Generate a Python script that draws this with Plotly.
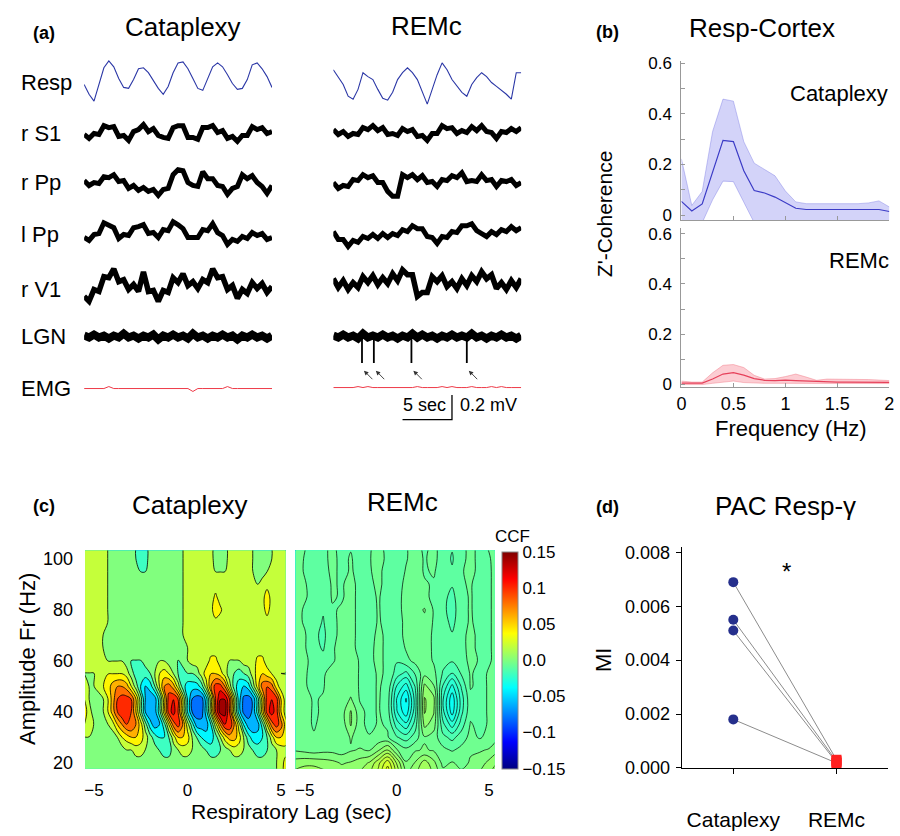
import plotly.graph_objects as go
import numpy as np

W, H = 900, 836
FONT = "Liberation Sans, Arial, sans-serif"


def fx(p):
    return p / W


def fy(p):
    return 1 - p / H


# ---------------- Panel (a): example traces (values in microvolts, 0.5 s sampling) ----------------
t_sec = [round(0.5 * i, 2) for i in range(39)]
channel_names = ["Resp", "r S1", "r Pp", "l Pp", "r V1", "LGN", "EMG"]

cat_resp = [-24, -104, -160, -24, 112, 168, 120, 24, -48, -56, 16, 104, 112, 72, 8, -56, -104, -40, 72, 152,
            160, 104, 24, -56, -72, 24, 120, 152, 120, 56, -16, -64, -56, 16, 136, 152, 104, 40, -48]
cat_s1 = [-8, -40, 0, -8, 64, 48, 56, -24, -16, -56, 16, 32, 72, 16, 40, -16, -32, -40, 48, 64,
          64, -32, -32, -48, 48, 48, 64, 8, 24, -40, -24, -64, -16, -16, 56, 32, 48, 0, 16]
cat_rpp = [32, -8, 16, 8, 64, 56, 80, 24, 32, -32, -8, -48, -24, -56, -40, -88, -40, -32, 80, 120,
           112, 16, -8, -16, 104, 48, 48, -8, -16, -80, -32, -16, 80, 48, 72, 16, -16, -72, -8]
cat_lpp = [-32, -56, -8, 0, 88, 64, 48, -40, -8, -16, 48, 56, 72, 0, 8, -32, 32, 24, 96, 72,
           40, -32, -32, -32, 32, 24, 80, 8, -16, -88, -48, -64, -24, -40, 8, -16, 0, -48, -32]
cat_v1 = [-88, -128, -32, -48, 72, 64, 136, 32, 48, -32, 8, -48, 112, -48, -40, -128, -40, -56, 64, 24,
          96, 0, 32, -24, 48, 24, 136, 64, 72, -32, 0, -104, -32, -64, 24, -24, 16, -56, -8]
cat_lgn = [8, -8, 16, -8, 8, -16, 8, -8, 24, -8, 8, -16, 8, -8, 16, -24, 8, -8, 16, -8,
           8, -16, 24, -8, 8, -16, 8, -8, 16, -8, 8, -24, 8, -8, 16, -8, 8, -16, 8]
cat_emg = [0, 0, 0, 0, 0, 16, 0, 0, 0, 0, 0, 0, 0, 0, 0, 0, 0, 0, 0, 0,
           0, 0, -24, 0, 0, 0, 0, 0, 0, 16, 0, 0, 0, 0, 0, 0, 0, 0, 0]

rem_resp = [120, 64, 0, -96, -120, -40, 96, 64, 40, -40, -112, -128, -64, 40, 96, 136, 96, 40, -64, -160,
            -40, 80, 176, 120, 40, -16, -64, -96, 0, 56, 96, 64, 16, -16, -48, -80, -120, 96, 96]
rem_s1 = [24, -16, 8, -32, -8, -16, 40, 24, 56, 16, 40, -16, -8, -24, 32, 8, 24, -32, -24, -64,
          -8, -8, 56, 32, 40, -8, 16, 0, 48, 16, 56, 8, 0, -48, 8, 0, 32, 8, 40]
rem_rpp = [16, -32, -8, -16, 40, 32, 80, 56, 72, 16, 16, -56, -96, -96, 80, 56, 80, 40, 72, 16,
           24, -16, 40, 32, 72, 56, 96, 24, 32, 24, 80, 32, 40, -16, 32, 24, 40, -8, 16]
rem_lpp = [32, -32, -32, -88, -40, -56, -8, -24, 8, -24, 16, -16, 16, 0, 48, 32, 80, 56, 56, -8,
           -16, -64, -8, -16, 32, 24, 80, 80, 96, 40, 16, -8, 32, 8, 48, 32, 72, 40, 64]
rem_v1 = [32, -40, 16, -56, 0, -40, 48, 0, 56, -16, 40, -8, 72, 16, 104, 64, 64, -112, -80, -80,
          48, 8, 56, -32, 8, -48, 32, -24, 56, 8, 88, 32, 64, -48, 0, -56, 16, -40, 32]
rem_lgn = [8, -8, 16, -8, 8, -16, 24, -8, 8, -8, 16, -8, 8, -16, 8, -8, 24, -8, 16, -8,
           8, -16, 8, -8, 16, -8, 8, -8, 24, -8, 8, -16, 8, -8, 16, -8, 8, -16, 8]
rem_emg = [0, 0, 0, 0, 0, 8, 0, 8, 0, 0, 0, 0, 0, 0, 0, 0, 0, 8, 0, 0,
           0, 0, 8, 0, 8, 0, 0, 0, 8, 0, 0, 0, 8, 0, 8, 0, 0, 0, 0]

lgn_spike_times = [2.9, 4.1, 7.9, 13.5]
lgn_spike_depth_uV = [-216, -216, -216, -216]
scale_sec = 5
scale_uV = 200

# ---------------- Panel (b): Resp-cortex coherence ----------------
freq_hz = [0.0, 0.1, 0.2, 0.3, 0.4, 0.5, 0.6, 0.7, 0.8, 0.9, 1.0, 1.1, 1.2, 1.3, 1.4, 1.5, 1.6, 1.7, 1.8, 1.9, 2.0]
cat_mean = [0.054, 0.016, 0.044, 0.17, 0.295, 0.29, 0.175, 0.097, 0.087, 0.071, 0.05, 0.027, 0.022, 0.022,
            0.022, 0.022, 0.022, 0.022, 0.022, 0.022, 0.014]
cat_upper = [0.222, 0.038, 0.093, 0.33, 0.458, 0.45, 0.29, 0.205, 0.18, 0.155, 0.095, 0.052, 0.045, 0.045,
             0.045, 0.045, 0.045, 0.045, 0.048, 0.056, 0.032]
cat_lower = [-0.03, -0.03, -0.03, 0.06, 0.134, 0.132, 0.05, -0.03, -0.03, -0.03, -0.03, -0.03, -0.03, -0.03,
             -0.03, -0.03, -0.03, -0.03, -0.03, -0.03, -0.03]
rem_mean = [0.004, 0.003, 0.004, 0.02, 0.04, 0.046, 0.036, 0.022, 0.015, 0.014, 0.016, 0.014, 0.012, 0.009,
            0.009, 0.008, 0.008, 0.008, 0.008, 0.008, 0.007]
rem_upper = [0.012, 0.008, 0.008, 0.045, 0.075, 0.078, 0.066, 0.035, 0.02, 0.022, 0.03, 0.04, 0.028, 0.015,
             0.02, 0.02, 0.018, 0.019, 0.018, 0.016, 0.014]
rem_lower = [-0.002, -0.002, -0.002, 0.003, 0.008, 0.012, 0.006, 0.003, 0.003, 0.003, 0.003, 0.003, 0.003, 0.002,
             0.002, 0.002, 0.002, 0.002, 0.002, 0.002, 0.002]

# ---------------- Panel (c): CCF maps ----------------
ccf_freq_hz = [15, 20, 25, 30, 35, 40, 45, 50, 55, 60, 65, 70, 75, 80, 85, 90, 95, 100, 105]
cat_lag_sec = [round(-5.5 + 0.25 * i, 2) for i in range(45)]
rem_lag_sec = [round(-5.5 + 0.5 * i, 2) for i in range(23)]

# Cataplexy CCF, in units of 0.01
cat_ccf_centi = [
    [1, 1, 1, 1, 1, 0, 0, 0, 0, 0, 0, 0, 0, 0, 0, 0, 0, 0, 0, 0, 0, 0, 0, 0, 0, 0, 0, 0, 0, 0, 0, 0, 0, 0, 0, 0, 0, 0, 0, 0, 0, 1, 2, 4, 5],
    [1, 1, 1, 1, 1, 0, 0, 0, 0, 0, 0, 0, 0, 0, 0, 0, 0, 0, 0, 0, 0, 0, 0, 0, 0, 0, 0, 0, 0, 0, 0, 0, 0, 0, 0, 0, 0, 0, 0, 0, 0, 1, 2, 4, 4],
    [0, 0, 0, 0, 0, 0, 0, 0, 0, 1, 1, 2, 2, 1, 1, 0, -1, -2, -2, 0, 1, 2, 2, 1, 0, 0, -1, -2, -2, -1, 0, 1, 2, 2, 1, 0, -1, -2, -2, -1, 0, 1, 2, 2, 2],
    [1, 1, 1, 0, 0, 0, 0, 1, 3, 4, 5, 5, 4, 2, 0, -2, -3, -3, -1, 2, 5, 5, 4, 1, -1, -3, -4, -4, -2, 1, 4, 6, 6, 4, 1, -2, -4, -4, -3, -1, 2, 5, 5, 5, 2],
    [3, 2, 1, 0, 0, 1, 2, 5, 7, 9, 9, 7, 4, 0, -4, -6, -5, -2, 3, 8, 10, 7, 2, -2, -6, -6, -6, -3, 2, 7, 11, 11, 7, 2, -3, -6, -6.5, -6, -2, 3, 8, 10, 8, 4, 2],
    [4, 2, 0, 0, 1, 3, 6, 9, 11, 11, 9, 5, 0, -5, -6.5, -6, -2, 4, 10, 12, 9, 3, -3, -7, -8, -8, -4, 2, 9, 14, 14, 9, 2, -4, -7.5, -8, -6.5, -2, 4, 10, 12, 10, 5, 2, 1],
    [3, 1, 0, 0, 1, 3, 6, 9, 10, 10, 9, 5, 0, -5, -6.5, -6, -2, 4, 10, 11, 9, 3, -3, -7, -8, -8, -4, 2, 9, 13, 13, 9, 2, -4, -7.5, -8, -6.5, -2, 4, 10, 11, 10, 5, 2, 1],
    [2, 1, 1, 2, 3, 4, 6, 7, 7, 6, 3, 0, -3, -5, -4, -1, 3, 7, 8, 6, 2, -2, -4, -4, -4, -2, 2, 7, 10, 10, 7, 2, -2, -4, -5, -4, 0, 4, 8, 9, 8, 4, 2, 2, 2],
    [1, 1, 1, 2, 3, 3, 3, 3, 3, 2, 0, -2, -2, -2, -1, 1, 3, 4, 3, 1, -1, -2, -1, -1, 0, 2, 4, 5, 5, 4, 2, 0, -1, -2, -1, 0, 2, 4, 5, 4, 3, 2, 1, 1, 1],
    [2, 2, 2, 2, 2, 1, 1, 1, 1, 0, -1, -1, -1, 0, 0, 1, 1, 1, 0, 0, -1, 0, 1, 2, 2, 2, 2, 3.6, 3.6, 2, 2, 1, 1, 1, 2, 2, 2, 3.6, 3.6, 2, 2, 2, 2, 2, 1],
    [2, 2, 2, 2, 1, 0, 0, 0, 0, 0, 0, 0, 0, 0, 0, 0, 0, 0, 0, 0, 0, 0, 1, 2, 2, 2, 2, 2, 2, 2, 2, 2, 2, 2, 2, 2, 2, 2, 2, 2, 2, 2, 2, 2, 1],
    [2, 2, 2, 2, 1, 0, 0, 0, 0, 0, 0, 0, 0, 0, 0, 0, 0, 0, 0, 0, 0, 1, 2, 2, 2, 2, 2, 2, 2, 2, 2, 2, 2, 2, 2, 2, 2, 2, 2, 2, 2, 2, 2, 2, 2],
    [2, 2, 2, 2, 2, 1, 0, 0, 0, 0, 0, 0, 0, 0, 0, 0, 0, 0, 0, 0, 0, 1, 2, 2, 2, 2, 2, 2, 2, 2, 2, 2, 2, 2, 2, 2, 2, 2, 2, 2, 2, 2, 2, 2, 2],
    [2, 2, 2, 2, 2, 1, 0, 0, 0, 0, 0, 0, 0, 0, 0, 0, 0, 0, 0, 0, 0, 1, 2, 2, 2, 2, 2, 2, 5, 3.5, 2, 2, 2, 2, 2, 2, 2, 2, 2, 4, 2, 2, 2, 2, 2],
    [2, 2, 2, 2, 2, 1, 0, 0, 0, 0, 0, 0, 0, 0, 0, 0, 0, 0, 0, 0, 0, 1, 2, 2, 2, 2, 2, 2, 3.5, 2, 2, 2, 2, 2, 2, 2, 2, 2, 2, 4.5, 2, 2, 2, 2, 2],
    [2, 2, 2, 2, 2, 1, 0, 0, 0, 0, 0, 0, 0, 0, 0, 0, 0, 0, 0, 0, 0, 1, 2, 2, 2, 2, 2, 2, 2, 2, 2, 2, 2, 2, 2, 2, 2, 1, 2, 2, 2, 2, 2, 2, 2],
    [2, 2, 2, 2, 2, 1, 0, 0, 0, 0, 0, 0, -1, -1, 0, 0, 0, 0, 0, 0, 0, 1, 2, 2, 2, 2, 2, 2, 1, 1, 1, 2, 2, 2, 2, 2, 1, 0, 0, 1, 2, 2, 2, 2, 2],
    [2, 2, 2, 2, 2, 1, 0, 0, 0, 0, 0, -1, -2, -2, 0, 0, 0, 0, 0, 0, 0, 1, 2, 2, 2, 2, 2, 2, 0, 0, 0, 2, 2, 2, 2, 2, 1, 0, 0, 0, 1, 2, 2, 2, 2],
    [2, 2, 2, 2, 2, 1, 0, 0, 0, 0, 0, -1, -2, -2, 0, 0, 0, 0, 0, 0, 0, 1, 2, 2, 2, 2, 2, 2, 0, 0, 0, 2, 2, 2, 2, 2, 1, 0, 0, 0, 1, 2, 2, 2, 2],
]

# REMc CCF, in units of 0.001
rem_ccf_milli = [
    [10, 12, 12, 10, 9, 6, 7, 9, 12, 20, 32, 16, 2, 7, 13, 7, 0, 2, -1, 2, 4, 8, 12],
    [5, 6, 6, 5, 4, 2, 3, 5, 8, 16, 26, 12, -2, 3, 10, 4, -4, -2, -4, -2, 0, 4, 8],
    [-3, -4, -5, -4, -4, -5, -3, -2, -3, 2, 8, -2, -6, -3, -2, -3, -6, -8, -6, -3, -3, -2, 2],
    [-4, -6, -7, -6, -5, -6, -2, -5, -7, -6, -7, -12, -15, -10, -3, -5, -11, -14, -10, -6, -8, -6, -3],
    [-4, -6, -8, -6, -4, -6, 3, -6, -9, -7, -8, -20, -26, -15, 4, 0, -16, -25, -15, -7, -9, -7, -4],
    [-4, -6, -8, -7, -3, -5, 3, -6, -9, -7, -10, -27, -36, -19, 8, 3, -21, -35, -19, -9, -9, -7, -5],
    [-4, -6, -8, -7, -3, -6, -2, -8, -9, -7, -10, -28, -38, -20, 8, 4, -22, -36, -20, -9, -9, -7, -5],
    [-5, -7, -9, -8, -4, -7, -5, -8, -9, -7, -9, -23, -30, -17, 4, -2, -18, -29, -17, -7, -9, -7, -5],
    [-5, -7, -9, -8, -6, -7, -5, -8, -9, -7, -8, -15, -19, -12, -4, -6, -13, -18, -12, -7, -9, -7, -5],
    [-5, -6, -10, -11, -8, -6, -5, -8, -9, -6, -9, -12, -9, -6, -5, -8, -11, -12, -10, -6, -8, -8, -6],
    [-5, -7, -11, -13, -8, -6, -6, -9, -9, -6, -9, -11, -7, -7, -6, -8, -10, -11, -9, -6, -9, -8, -6],
    [-6, -7, -11, -14, -8, -7, -6, -9, -10, -6, -9, -10, -6, -7, -6, -8, -10, -12, -9, -6, -9, -8, -6],
    [-6, -8, -10, -13, -8, -7, -6, -9, -10, -7, -9, -10, -6, -6, -4, -8, -10, -14, -9, -7, -9, -8, -6],
    [-6, -8, -9, -12, -8, -7, -6, -9, -10, -7, -10, -9, -6, -5, -2, -8, -11, -15, -9, -7, -10, -8, -6],
    [-5, -7, -9, -11, -7, -8, -6, -9, -9, -7, -10, -9, -6, -3, -7, -8, -11, -14, -9, -7, -10, -8, -6],
    [-5, -7, -10, -10, -7, -8, -6, -9, -9, -6, -10, -10, -6, -6, -7, -8, -11, -12, -8, -7, -10, -8, -6],
    [-5, -8, -11, -10, -6, -9, -7, -9, -8, -6, -10, -11, -7, -5, -8, -7, -10, -12, -8, -6, -9, -8, -6],
    [-4, -8, -12, -9, -6, -9, -7, -10, -8, -5, -9, -11, -8, -5, -8, -6, -10, -13, -9, -6, -9, -8, -5],
    [-4, -7, -11, -9, -6, -10, -8, -11, -8, -6, -9, -12, -8, -5, -9, -6, -10, -12, -9, -6, -9, -7, -5],
]

# ---------------- Panel (d): PAC ----------------
pac_conditions = ["Cataplexy", "REMc"]
mi_cataplexy = [0.0069, 0.0055, 0.0051, 0.0018]
mi_remc = [0.0003, 0.00025, 0.0002, 0.00018]

for arr in [cat_resp, cat_s1, cat_rpp, cat_lpp, cat_v1, cat_lgn, cat_emg,
            rem_resp, rem_s1, rem_rpp, rem_lpp, rem_v1, rem_lgn, rem_emg]:
    assert len(arr) == len(t_sec)
for row in cat_ccf_centi:
    assert len(row) == len(cat_lag_sec)
for row in rem_ccf_milli:
    assert len(row) == len(rem_lag_sec)
assert len(cat_ccf_centi) == len(ccf_freq_hz) == len(rem_ccf_milli)

# =====================================================================
fig = go.Figure()
annotations = []


def ann(text, x, y, size, bold=False, xanchor="center", angle=0, yanchor="middle"):
    annotations.append(dict(
        text=("<b>%s</b>" % text) if bold else text, x=fx(x), y=fy(y), xref="paper", yref="paper",
        showarrow=False, xanchor=xanchor, yanchor=yanchor, textangle=angle,
        font=dict(family=FONT, size=size, color="black")))


# ---- panel a
UV_PER_PX = 8
A_TOP, A_BOT = 50, 430
cat_center_px = [77, 130, 182, 232, 285, 337, 390]
rem_center_px = [80, 129, 182, 234, 282, 337, 389]
trace_colors = ["#2b37a6", "black", "black", "black", "black", "black", "#ee3a48"]
trace_widths = [1.1, 5.0, 5.0, 5.0, 5.5, 8.0, 1.0]


def center_uv(p):
    return -(p - A_TOP) * UV_PER_PX


for group, centers, xa, ya in [
    ([cat_resp, cat_s1, cat_rpp, cat_lpp, cat_v1, cat_lgn, cat_emg], cat_center_px, "x", "y"),
    ([rem_resp, rem_s1, rem_rpp, rem_lpp, rem_v1, rem_lgn, rem_emg], rem_center_px, "x2", "y2"),
]:
    for vals, cpx, col, w in zip(group, centers, trace_colors, trace_widths):
        c = center_uv(cpx)
        fig.add_trace(go.Scatter(x=t_sec, y=[c + v for v in vals], mode="lines",
                                 line=dict(color=col, width=w), xaxis=xa, yaxis=ya,
                                 hoverinfo="skip", showlegend=False))

lgn_c = center_uv(rem_center_px[5])
sx, sy = [], []
for t, d in zip(lgn_spike_times, lgn_spike_depth_uV):
    sx += [t, t, None]
    sy += [lgn_c, lgn_c + d, None]
fig.add_trace(go.Scatter(x=sx, y=sy, mode="lines", line=dict(color="black", width=1.8),
                         xaxis="x2", yaxis="y2", hoverinfo="skip", showlegend=False))

for t in lgn_spike_times:
    hx, hy = t + 0.2, lgn_c - 278
    annotations.append(dict(x=hx, y=hy, ax=hx + 1.0, ay=hy - 82, xref="x2", yref="y2",
                            axref="x2", ayref="y2", showarrow=True, arrowhead=2, arrowsize=1.0,
                            arrowwidth=0.9, arrowcolor="#333", text=""))

sb_x0 = 7.0
sb_y = center_uv(421.7)
fig.add_trace(go.Scatter(x=[sb_x0, sb_x0 + scale_sec, sb_x0 + scale_sec],
                         y=[sb_y, sb_y, sb_y + scale_uV], mode="lines",
                         line=dict(color="black", width=1.3), xaxis="x2", yaxis="y2",
                         hoverinfo="skip", showlegend=False))

ann("(a)", 39.5, 28, 18, bold=True)
ann("Cataplexy", 180, 21, 26)
ann("REMc", 426.7, 20, 26)
label_y_px = [78, 129.5, 179.5, 233, 289.5, 336.5, 389.5]
for name, y in zip(channel_names, label_y_px):
    ann(name, 14, y, 22, xanchor="left")
ann("5 sec", 424, 407, 18)
ann("0.2 mV", 458, 407, 18, xanchor="left")

# ---- panel b
for mean, up, lo, line_c, edge_c, fill_c, xa, ya in [
    (cat_mean, cat_upper, cat_lower, "#3b3bc6", "rgba(110,110,225,0.55)", "rgba(110,110,235,0.30)", "x3", "y3"),
    (rem_mean, rem_upper, rem_lower, "#e6405a", "rgba(240,110,125,0.6)", "rgba(245,90,110,0.30)", "x4", "y4"),
]:
    fig.add_trace(go.Scatter(x=freq_hz, y=lo, mode="lines", line=dict(color=edge_c, width=0.7),
                             xaxis=xa, yaxis=ya, hoverinfo="skip", showlegend=False))
    fig.add_trace(go.Scatter(x=freq_hz, y=up, mode="lines", line=dict(color=edge_c, width=0.7),
                             fill="tonexty", fillcolor=fill_c, xaxis=xa, yaxis=ya,
                             hoverinfo="skip", showlegend=False))
    fig.add_trace(go.Scatter(x=freq_hz, y=mean, mode="lines", line=dict(color=line_c, width=1.2),
                             xaxis=xa, yaxis=ya, hoverinfo="skip", showlegend=False))

ann("(b)", 609, 27, 18, bold=True)
ann("Resp-Cortex", 766, 22, 26)
ann("Cataplexy", 843.5, 89.5, 22)
ann("REMc", 863.5, 259.5, 22)
ann("Z'-Coherence", 607, 212, 21, angle=-90)
ann("Frequency (Hz)", 795, 431, 22)

# ---- panel c
JET_STOPS = [(0.0, (0, 0, 128)), (0.125, (0, 0, 255)), (0.375, (0, 255, 255)),
             (0.625, (255, 255, 0)), (0.875, (255, 0, 0)), (1.0, (128, 0, 0))]
JET = [[p, "rgb(%d,%d,%d)" % c] for p, c in JET_STOPS]
CCF_MIN, CCF_MAX = -0.15, 0.15


def jet(n):
    n = min(max(n, 0.0), 1.0)
    for (p0, c0), (p1, c1) in zip(JET_STOPS[:-1], JET_STOPS[1:]):
        if n <= p1:
            f = (n - p0) / (p1 - p0)
            return "rgb(%d,%d,%d)" % tuple(round(a + (b - a) * f) for a, b in zip(c0, c1))
    return "rgb(128,0,0)"


def band_scale(start, end, size):
    # plotly spreads a filled-contour colour scale over [start - size/2, end + size/2];
    # re-express jet on the fixed CCF range -0.15 .. 0.15 in that frame
    nc = int(np.floor((end - start) / size + 1e-6)) + 1
    out = []
    for k in range(241):
        p = k / 240
        v = (p * nc - 0.5) * size + start
        out.append([p, jet((v - CCF_MIN) / (CCF_MAX - CCF_MIN))])
    return out


cat_levels = dict(start=-0.1495, end=0.1505, size=0.02)
rem_levels = dict(start=-0.1475, end=0.1475, size=0.005)

fig.add_trace(go.Contour(
    x=cat_lag_sec, y=ccf_freq_hz, z=(np.array(cat_ccf_centi, dtype=float) * 0.01).tolist(),
    colorscale=band_scale(**cat_levels), showscale=False,
    contours=dict(cat_levels, coloring="fill", showlines=True),
    line=dict(color="black", width=0.8, smoothing=1.0),
    xaxis="x5", yaxis="y5", hoverinfo="skip"))

fig.add_trace(go.Contour(
    x=rem_lag_sec, y=ccf_freq_hz, z=(np.array(rem_ccf_milli, dtype=float) * 0.001).tolist(),
    colorscale=band_scale(**rem_levels), showscale=False,
    contours=dict(rem_levels, coloring="fill", showlines=True),
    line=dict(color="black", width=0.7, smoothing=1.0),
    xaxis="x6", yaxis="y6", hoverinfo="skip"))

# continuous colour bar
fig.add_trace(go.Scatter(
    x=[None], y=[None], mode="markers", xaxis="x6", yaxis="y6", hoverinfo="skip", showlegend=False,
    marker=dict(color=[0], colorscale=JET, cmin=CCF_MIN, cmax=CCF_MAX, showscale=True,
                colorbar=dict(x=fx(502.7), xanchor="left", y=fy(666.85), yanchor="middle",
                              len=221.7 / H, lenmode="fraction", thickness=16, thicknessmode="pixels",
                              outlinewidth=1, outlinecolor="#888", ticks="",
                              tickvals=[0.15, 0.1, 0.05, 0.0, -0.05, -0.1, -0.15],
                              ticktext=["0.15", "0.1", "0.05", "0.0", "\u22120.05", "\u22120.1", "\u22120.15"],
                              tickfont=dict(family=FONT, size=17, color="black"), xpad=0, ypad=0))))

ann("(c)", 39, 510, 18, bold=True)
ann("Cataplexy", 186.7, 509, 26)
ann("REMc", 401.7, 506, 26)
ann("CCF", 513, 541, 17)
ann("Amplitude Fr (Hz)", 23, 666, 22, angle=-90)
ann("Respiratory Lag (sec)", 290, 821, 21)

# ---- panel d
lx, ly = [], []
for a, b in zip(mi_cataplexy, mi_remc):
    lx += [0, 1, None]
    ly += [a, b, None]
fig.add_trace(go.Scatter(x=lx, y=ly, mode="lines", line=dict(color="rgb(140,140,140)", width=1),
                         xaxis="x7", yaxis="y7", hoverinfo="skip", showlegend=False))
fig.add_trace(go.Scatter(x=[0] * len(mi_cataplexy), y=mi_cataplexy, mode="markers",
                         marker=dict(color="#252f8c", size=10, symbol="circle"),
                         xaxis="x7", yaxis="y7", hoverinfo="skip", showlegend=False, cliponaxis=False))
fig.add_trace(go.Scatter(x=[1] * len(mi_remc), y=mi_remc, mode="markers",
                         marker=dict(color="#ff2020", size=10, symbol="square"),
                         xaxis="x7", yaxis="y7", hoverinfo="skip", showlegend=False, cliponaxis=False))

ann("(d)", 609, 511, 18, bold=True)
ann("PAC Resp-\u03b3", 789, 510, 26)
ann("MI", 604.5, 667, 22, angle=-90)
ann("*", 790.7, 577, 24)

# ---------------- axes ----------------
def hidden(domain, rng, anchor):
    return dict(domain=domain, range=rng, visible=False, anchor=anchor, fixedrange=True,
                showgrid=False, zeroline=False)


tickfont = dict(family=FONT, size=18, color="black")
layout = dict(
    width=W, height=H, margin=dict(l=0, r=0, t=0, b=0),
    paper_bgcolor="white", plot_bgcolor="white", showlegend=False,
    font=dict(family=FONT, color="black"),
    annotations=annotations,
)
a_y = [fy(A_BOT), fy(A_TOP)]
a_yr = [-(A_BOT - A_TOP) * UV_PER_PX, 0]
layout["xaxis"] = hidden([fx(80), fx(270)], [0, 19], "y")
layout["yaxis"] = hidden(a_y, a_yr, "x")
layout["xaxis2"] = hidden([fx(332), fx(522)], [0, 19], "y2")
layout["yaxis2"] = hidden(a_y, a_yr, "x2")

bx = dict(range=[0, 2], tickvals=[0, 0.5, 1, 1.5, 2], ticktext=["0", "0.5", "1", "1.5", "2"],
          ticks="inside", ticklen=4, tickcolor="#999", showline=True, linecolor="#999", linewidth=1,
          showgrid=False, zeroline=False, tickfont=tickfont, ticklabelstandoff=1,
          domain=[fx(684), fx(894.3)])
by = dict(tickvals=[0, 0.1, 0.2, 0.3, 0.4, 0.5, 0.6],
          ticktext=["0", "", "0.2", "", "0.4", "", "0.6"], ticks="inside", ticklen=4, tickcolor="#999",
          showline=True, linecolor="#999", linewidth=1, showgrid=False, zeroline=False,
          tickfont=dict(family=FONT, size=17, color="black"), ticklabelstandoff=5)
layout["xaxis3"] = dict(bx, anchor="y3", showticklabels=False)
layout["yaxis3"] = dict(by, anchor="x3", range=[-0.02, 0.61], domain=[fy(218.3), fy(55.7)])
layout["xaxis4"] = dict(bx, anchor="y4")
layout["yaxis4"] = dict(by, anchor="x4", range=[-0.01, 0.625], domain=[fy(388), fy(226)])

cy_dom = [fy(777.7), fy(555)]
cx = dict(tickvals=[-5, 0, 5], ticktext=["\u22125", "0", "5"], ticks="", showline=False, showgrid=False,
          zeroline=False, tickfont=dict(family=FONT, size=17, color="black"), ticklabelstandoff=9)
layout["xaxis5"] = dict(cx, domain=[fx(81), fx(283.7)], range=[-5.47, 5.24], anchor="y5")
layout["yaxis5"] = dict(domain=cy_dom, range=[17.7, 103.2], tickvals=[20, 40, 60, 80, 100], ticks="",
                        showline=False, showgrid=False, zeroline=False, tickfont=tickfont,
                        ticklabelstandoff=11, anchor="x5")
layout["xaxis6"] = dict(cx, domain=[fx(292.3), fx(495)], range=[-5.58, 5.3], anchor="y6")
layout["yaxis6"] = dict(domain=cy_dom, range=[17.7, 103.2], showticklabels=False, ticks="",
                        showline=False, showgrid=False, zeroline=False, anchor="x6")

layout["xaxis7"] = dict(domain=[fx(684.3), fx(893)], range=[-0.5, 1.5], tickvals=[0, 1],
                        ticktext=pac_conditions, ticks="outside", ticklen=5, tickcolor="black",
                        showline=True, linecolor="black", linewidth=1, showgrid=False, zeroline=False,
                        tickfont=dict(family=FONT, size=21, color="black"), ticklabelstandoff=28,
                        anchor="y7")
layout["yaxis7"] = dict(domain=[fy(776.7), fy(551.7)], range=[0, 0.0082],
                        tickvals=[0, 0.002, 0.004, 0.006, 0.008],
                        ticktext=["0.000", "0.002", "0.004", "0.006", "0.008"],
                        ticks="outside", ticklen=5, tickcolor="black", showline=True, linecolor="black",
                        linewidth=1, showgrid=False, zeroline=False, tickfont=tickfont,
                        ticklabelstandoff=2, anchor="x7")

fig.update_layout(**layout)
fig.write_html("out.html", config={"displayModeBar": False},
               post_script="document.body.style.margin='0px';")
